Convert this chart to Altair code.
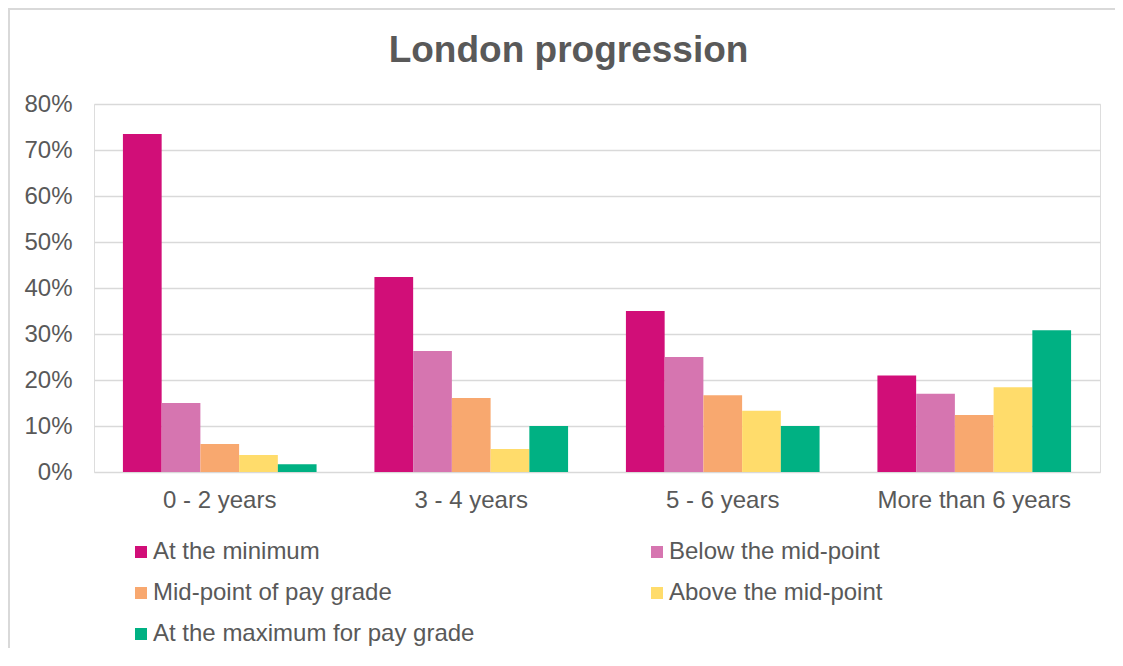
import altair as alt
import pandas as pd

categories = ["0 - 2 years", "3 - 4 years", "5 - 6 years", "More than 6 years"]
series = ["At the minimum", "Below the mid-point", "Mid-point of pay grade",
          "Above the mid-point", "At the maximum for pay grade"]
colors = ["#D10E78", "#D675B0", "#F8A86F", "#FFDC6B", "#00B183"]

at_minimum = [0.735, 0.424, 0.350, 0.210]
below_mid = [0.150, 0.263, 0.250, 0.170]
mid_point = [0.061, 0.161, 0.167, 0.124]
above_mid = [0.037, 0.050, 0.133, 0.184]
at_maximum = [0.017, 0.100, 0.100, 0.308]

values = [at_minimum, below_mid, mid_point, above_mid, at_maximum]
rows = []
for s, vals in zip(series, values):
    for c, v in zip(categories, vals):
        rows.append({"category": c, "series": s, "value": v})
df = pd.DataFrame(rows)

# legend is filled column by column; reorder so rows read like the reference
legend_order = [0, 2, 4, 1, 3]
legend_domain = [series[i] for i in legend_order]
legend_range = [colors[i] for i in legend_order]

FONT = "Liberation Sans"
GREY = "#595959"

W, H = 1006, 368
PAD_L, PAD_T, PAD_R, PAD_B = 86, 96, 15, 176

bars = alt.Chart(df).mark_bar().encode(
    x=alt.X("category:N", sort=categories, title=None,
            scale=alt.Scale(paddingInner=0.23, paddingOuter=0.115),
            axis=alt.Axis(labelAngle=0, labelFontSize=24, labelColor=GREY,
                          labelFont=FONT, ticks=False, domain=False,
                          labelPadding=16, labelLimit=0)),
    xOffset=alt.XOffset("series:N", sort=series,
                        scale=alt.Scale(paddingInner=0, paddingOuter=0)),
    y=alt.Y("value:Q", title=None,
            scale=alt.Scale(domain=[0, 0.8], nice=False),
            axis=alt.Axis(format=".0%", values=[i / 10 for i in range(9)],
                          labelFontSize=24, labelColor=GREY, labelFont=FONT,
                          ticks=False, domain=False, labelPadding=22,
                          grid=True, gridColor="#D9D9D9", gridWidth=1.5)),
    color=alt.Color("series:N",
                    scale=alt.Scale(domain=legend_domain, range=legend_range),
                    legend=alt.Legend(title=None, orient="none",
                                      legendX=35, legendY=436,
                                      columns=2, symbolType="square",
                                      symbolSize=144, symbolStrokeWidth=0,
                                      labelFontSize=24, labelColor=GREY,
                                      labelFont=FONT, labelOffset=0,
                                      rowPadding=17, columnPadding=170,
                                      labelLimit=0)),
)

border_df = pd.DataFrame({"k": [0]})
top_border = alt.Chart(border_df).mark_rule(
    color="#D9D9D9", strokeWidth=2, clip=False
).encode(
    x=alt.value(-PAD_L), x2=alt.value(W + PAD_R),
    y=alt.value(-PAD_T + 1), y2=alt.value(-PAD_T + 1),
)
left_border = alt.Chart(border_df).mark_rule(
    color="#D9D9D9", strokeWidth=2, clip=False
).encode(
    x=alt.value(-PAD_L + 1), x2=alt.value(-PAD_L + 1),
    y=alt.value(-PAD_T), y2=alt.value(H + PAD_B),
)

chart = alt.layer(bars, top_border, left_border).properties(
    width=W, height=H,
    title=alt.TitleParams("London progression", fontSize=37, font=FONT,
                          fontWeight="bold", color=GREY, anchor="middle",
                          frame="bounds", baseline="alphabetic",
                          offset=-92, dx=7),
    autosize=alt.AutoSizeParams(type="none"),
    padding={"left": PAD_L, "top": PAD_T, "right": PAD_R, "bottom": PAD_B},
).configure_view(stroke=None).configure(background="white")

chart.save("out.html", embed_options={"renderer": "svg", "actions": False})
